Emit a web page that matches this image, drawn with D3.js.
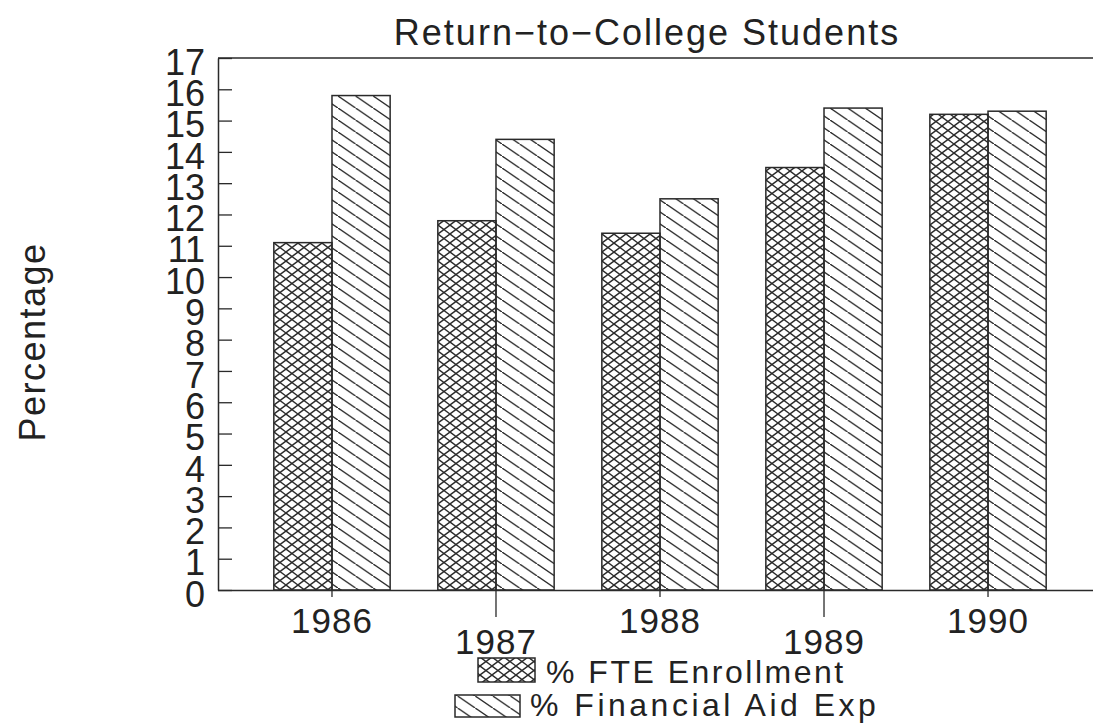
<!DOCTYPE html>
<html>
<head>
<meta charset="utf-8">
<script src="https://cdn.jsdelivr.net/npm/d3@7"></script>
<style>
  body { margin: 0; background: #fff; }
  text { font-family: 'Liberation Sans', Arial, sans-serif; fill: #222; }
</style>
</head>
<body>
<script>
let years = ['1986', '1987', '1988', '1989', '1990']
let fteEnrollment = [11.1, 11.8, 11.4, 13.5, 15.2]
let finAidExp = [15.8, 14.4, 12.5, 15.4, 15.3]
let seriesNames = ['% FTE Enrollment', '% Financial Aid Exp']
let yTicks = [0, 1, 2, 3, 4, 5, 6, 7, 8, 9, 10, 11, 12, 13, 14, 15, 16, 17]

let W = 1093, H = 723
let margin = { top: 58, bottom: 133, left: 218, right: -9 }
let ink = '#2a2a2a'

let svg = d3.select('body')
    .append('svg')
    .attr('width', W)
    .attr('height', H)

let defs = svg.append('defs')

// crosshatch: two diagonal sets forming small diamonds
let cross = defs.append('pattern')
    .attr('id', 'cross')
    .attr('patternUnits', 'userSpaceOnUse')
    .attr('width', 12)
    .attr('height', 9)
cross.append('path')
    .attr('d', 'M-1,-0.75 L13,9.75 M-1,9.75 L13,-0.75')
    .attr('stroke', ink)
    .attr('stroke-width', 1.4)
    .attr('fill', 'none')

// single hatch, lines falling to the right
let hatch = defs.append('pattern')
    .attr('id', 'hatch')
    .attr('patternUnits', 'userSpaceOnUse')
    .attr('width', 17.6)
    .attr('height', 12)
hatch.append('path')
    .attr('d', 'M-2,-1.36 L19.6,13.36 M-19.6,-13.36 L2,1.36')
    .attr('stroke', ink)
    .attr('stroke-width', 1.4)
    .attr('fill', 'none')

let y = d3.scaleLinear()
    .domain([0, 17])
    .range([H - margin.bottom, margin.top])

let x = d3.scaleBand()
    .domain(years)
    .range([margin.left, W - margin.right])
    .paddingInner(0)
    .paddingOuter(0.195)

let xs = d3.scaleBand()
    .domain([0, 1])
    .range([0, x.bandwidth()])
    .paddingInner(0)
    .paddingOuter(0.41)

let fills = ['url(#cross)', 'url(#hatch)']
let series = [fteEnrollment, finAidExp]

// top frame line
svg.append('line')
    .attr('x1', margin.left)
    .attr('x2', W)
    .attr('y1', y(17))
    .attr('y2', y(17))
    .attr('stroke', ink)
    .attr('stroke-width', 1.5)

// bars
let groups = svg.selectAll('g.year')
    .data(years)
    .enter()
    .append('g')
    .attr('class', 'year')
    .attr('transform', d => 'translate(' + x(d) + ',0)')

groups.selectAll('rect')
    .data((d, i) => series.map((s, k) => ({ k: k, v: s[i] })))
    .enter()
    .append('rect')
    .attr('x', d => xs(d.k))
    .attr('width', xs.bandwidth())
    .attr('y', d => y(d.v))
    .attr('height', d => y(0) - y(d.v))
    .attr('fill', d => fills[d.k])
    .attr('stroke', ink)
    .attr('stroke-width', 1.5)

// y axis, ticks pointing inside
let yAxis = svg.append('g')
    .attr('transform', 'translate(' + margin.left + ',0)')
    .call(d3.axisLeft(y).tickValues(yTicks).tickSize(-14).tickSizeOuter(0).tickPadding(13))

yAxis.select('.domain').attr('stroke', ink).attr('stroke-width', 1.5)
yAxis.selectAll('.tick line').attr('stroke', ink).attr('stroke-width', 1.3)
yAxis.selectAll('.tick text')
    .attr('dy', '0.45em')
    .style('font-size', '36px')
    .style('font-family', "'Liberation Sans', Arial, sans-serif")
    .attr('fill', '#222')

// x axis with staggered labels
let xAxis = svg.append('g')
    .attr('transform', 'translate(0,' + y(0) + ')')
    .call(d3.axisBottom(x).tickSize(7).tickSizeOuter(0))

xAxis.select('.domain').attr('d', 'M' + margin.left + ',0.5H' + W).attr('stroke', ink).attr('stroke-width', 1.5)
xAxis.selectAll('.tick line')
    .attr('stroke', ink)
    .attr('stroke-width', 1.3)
    .attr('y2', (d, i) => i % 2 ? 27 : 7)
xAxis.selectAll('.tick text')
    .attr('dy', 0)
    .attr('y', (d, i) => i % 2 ? 64 : 43)
    .style('font-size', '35px')
    .style('letter-spacing', '1px')
    .style('font-family', "'Liberation Sans', Arial, sans-serif")
    .attr('fill', '#222')

// title
svg.append('text')
    .attr('x', 647)
    .attr('y', 45)
    .attr('text-anchor', 'middle')
    .style('font-size', '36px')
    .style('letter-spacing', '2px')
    .text('Return\u2212to\u2212College Students')

// y title
svg.append('text')
    .attr('transform', 'translate(45,342) rotate(-90)')
    .attr('text-anchor', 'middle')
    .style('font-size', '36px')
    .style('letter-spacing', '1.5px')
    .text('Percentage')

// legend
let legendPos = [
    { sx: 478, sy: 658, sw: 57, sh: 24, tx: 546, ty: 683, ls: 2.5 },
    { sx: 455, sy: 695, sw: 65, sh: 22, tx: 530, ty: 716, ls: 3.5 }
]

let legend = svg.selectAll('g.legend')
    .data(seriesNames)
    .enter()
    .append('g')
    .attr('class', 'legend')

legend.append('rect')
    .attr('x', (d, i) => legendPos[i].sx)
    .attr('y', (d, i) => legendPos[i].sy)
    .attr('width', (d, i) => legendPos[i].sw)
    .attr('height', (d, i) => legendPos[i].sh)
    .attr('fill', (d, i) => fills[i])
    .attr('stroke', ink)
    .attr('stroke-width', 1.5)

legend.append('text')
    .attr('x', (d, i) => legendPos[i].tx)
    .attr('y', (d, i) => legendPos[i].ty)
    .style('font-size', '32px')
    .style('letter-spacing', (d, i) => legendPos[i].ls + 'px')
    .text(d => d)
</script>
</body>
</html>
